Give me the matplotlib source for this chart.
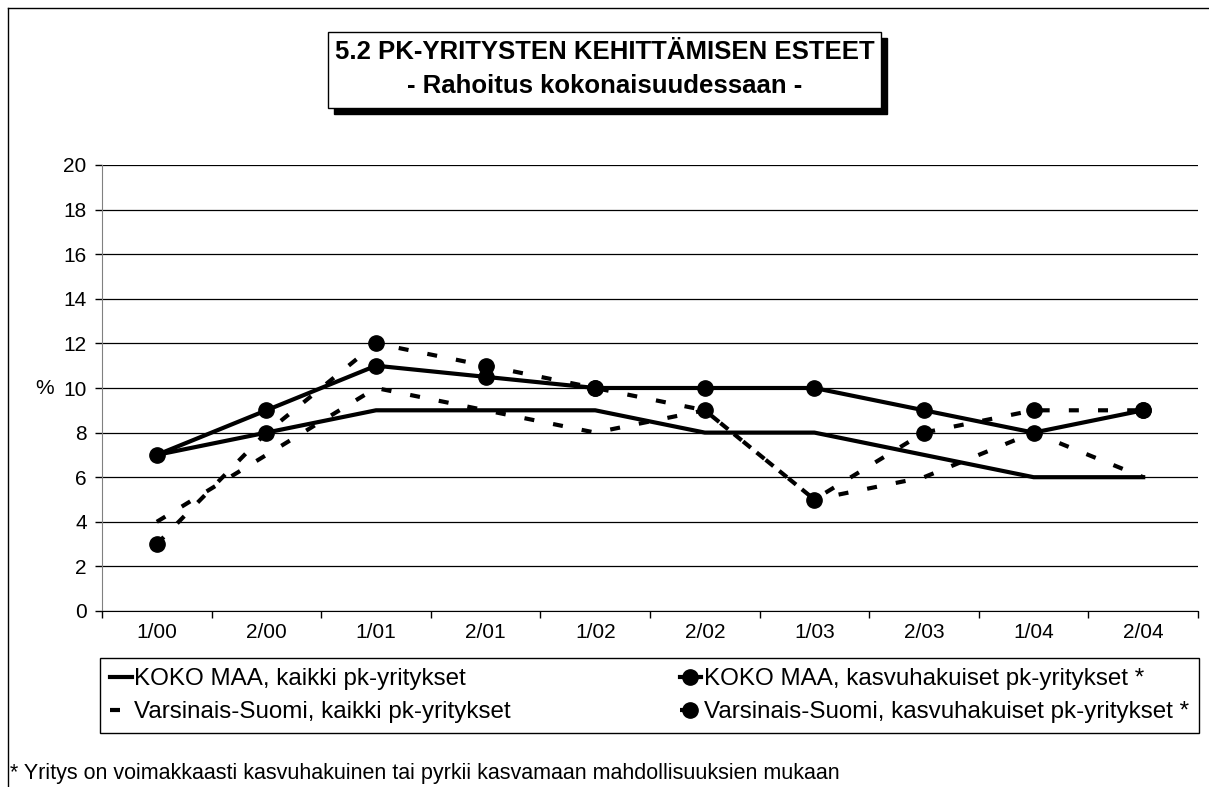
import matplotlib
matplotlib.use("Agg")
import matplotlib.pyplot as plt
from matplotlib.patches import Rectangle
from matplotlib.lines import Line2D

plt.rcParams['font.family'] = ['Liberation Sans', 'DejaVu Sans']

periods = ["1/00", "2/00", "1/01", "2/01", "1/02", "2/02", "1/03", "2/03", "1/04", "2/04"]
koko_kaikki = [7, 8, 9, 9, 9, 8, 8, 7, 6, 6]
koko_kasvu = [7, 9, 11, 10.5, 10, 10, 10, 9, 8, 9]
vs_kaikki = [4, 7, 10, 9, 8, 9, 5, 6, 8, 6]
vs_kasvu = [3, 8, 12, 11, 10, 9, 5, 8, 9, 9]
yticks = list(range(0, 21, 2))

W, H = 1209, 787
fig = plt.figure(figsize=(W / 100, H / 100), dpi=100)

def fx(px):
    return px / W

def fy(py):
    return 1 - py / H

# outer chart border (left + top only visible)
fig.add_artist(Line2D([fx(8), fx(8)], [fy(8), 0], color='black', lw=1))
fig.add_artist(Line2D([fx(8), 1], [fy(8), fy(8)], color='black', lw=1))

ax = fig.add_axes([fx(102), fy(611), fx(1198) - fx(102), fy(165) - fy(611)])
x = list(range(len(periods)))
dash = (0, (2.4, 4.6))
lw = 3
ms = 11

l1, = ax.plot(x, koko_kaikki, color='black', lw=lw)
l2, = ax.plot(x, koko_kasvu, color='black', lw=lw, marker='o', ms=ms)
l3, = ax.plot(x, vs_kaikki, color='black', lw=lw, linestyle=dash)
l4, = ax.plot(x, vs_kasvu, color='black', lw=lw, linestyle=dash, marker='o', ms=ms)

ax.set_xlim(-0.5, len(periods) - 0.5)
ax.set_ylim(0, 20)
ax.set_yticks(yticks)
ax.set_yticklabels([str(v) for v in yticks], fontsize=15)
ax.set_xticks(x)
ax.set_xticklabels(periods, fontsize=15)
ax.tick_params(axis='x', which='major', length=0, pad=9)
ax.set_xticks([i - 0.5 for i in range(len(periods) + 1)], minor=True)
ax.tick_params(axis='x', which='minor', length=5, color='black', width=1)
ax.tick_params(axis='y', length=5, color='black', width=1, pad=6)
ax.grid(axis='y', color='black', lw=0.9)
ax.set_axisbelow(True)
for s in ['top', 'right']:
    ax.spines[s].set_visible(False)
ax.spines['left'].set_color('#808080')
ax.spines['bottom'].set_color('black')
ax.set_ylabel('%', rotation=0, fontsize=15, va='center', ha='center')
ax.yaxis.set_label_coords((45 - 102) / (1198 - 102), 0.5)

# title box with shadow
bx0, by0, bx1, by1 = 328, 32, 881, 108
fig.add_artist(Rectangle((fx(bx0 + 6), fy(by1 + 6)), fx(bx1) - fx(bx0), fy(by0) - fy(by1),
                         facecolor='black', edgecolor='black', transform=fig.transFigure))
fig.add_artist(Rectangle((fx(bx0), fy(by1)), fx(bx1) - fx(bx0), fy(by0) - fy(by1),
                         facecolor='white', edgecolor='black', lw=1, transform=fig.transFigure))
fig.text(fx((bx0 + bx1) / 2), fy(52), "5.2 PK-YRITYSTEN KEHITTÄMISEN ESTEET",
         ha='center', va='center', fontsize=18.5, fontweight='bold')
fig.text(fx((bx0 + bx1) / 2), fy(86), "- Rahoitus kokonaisuudessaan -",
         ha='center', va='center', fontsize=18.5, fontweight='bold')

leg = fig.legend([l1, l3, l2, l4],
                 ["KOKO MAA, kaikki pk-yritykset",
                  "Varsinais-Suomi, kaikki pk-yritykset",
                  "KOKO MAA, kasvuhakuiset pk-yritykset *",
                  "Varsinais-Suomi, kasvuhakuiset pk-yritykset *"],
                 ncol=2, loc='upper left', mode='expand',
                 bbox_to_anchor=(fx(100), fy(731), fx(1199) - fx(100), fy(658) - fy(731)),
                 fontsize=17.4, frameon=True, fancybox=False, edgecolor='black',
                 framealpha=1, handlelength=0.9, handletextpad=0.1, numpoints=1,
                 borderpad=0.42, labelspacing=0.45, borderaxespad=0, columnspacing=1)
leg.get_frame().set_linewidth(1)

fig.text(fx(10), fy(773), "* Yritys on voimakkaasti kasvuhakuinen tai pyrkii kasvamaan mahdollisuuksien mukaan",
         ha='left', va='center', fontsize=15.5)

fig.savefig("out.png", dpi=100)
